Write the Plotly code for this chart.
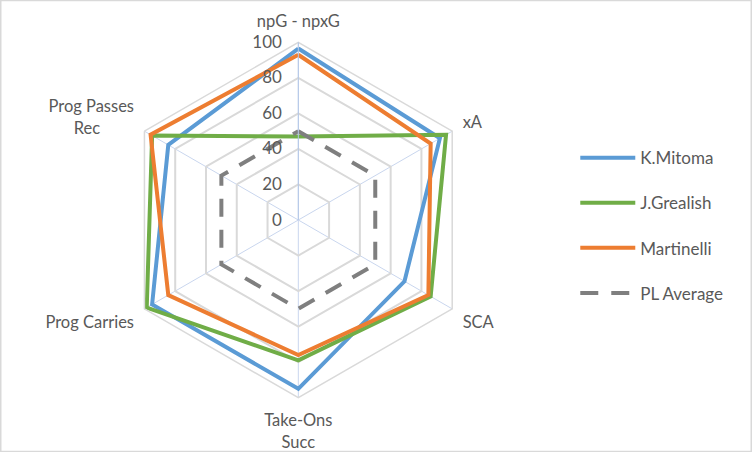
import plotly.graph_objects as go

NB = "\u00a0"
categories = ["npG - npxG", "xA", "SCA", "Take-Ons<br>Succ", "Prog Carries", "Prog Passes<br>Rec" + NB * 8]
mitoma = [96.5, 92, 69, 95, 95, 84.5]
grealish = [47, 96, 86, 79, 98.5, 95]
martinelli = [93, 86, 84.5, 76, 84.5, 96]
pl_average = [50, 50, 50, 50, 50, 50]
radial_ticks = [0, 20, 40, 60, 80, 100]

series = [
    ("K.Mitoma", mitoma, "#5B9BD5", "solid"),
    ("J.Grealish", grealish, "#70AD47", "solid"),
    ("Martinelli", martinelli, "#ED7D31", "solid"),
    ("PL Average", pl_average, "#7F7F7F", "18px,13px"),
]

fig = go.Figure()
for i, (name, vals, color, dash) in enumerate(series):
    fig.add_trace(go.Scatterpolar(
        r=vals + vals[:1], theta=categories + categories[:1],
        mode="lines", name=name, legendgroup=name,
        line=dict(color=color, width=4, dash=dash),
    ))

font_family = "Lato, 'Open Sans', sans-serif"
fig.update_layout(
    width=752, height=452,
    margin=dict(l=0, r=0, t=0, b=0),
    paper_bgcolor="white", plot_bgcolor="white",
    font=dict(family=font_family, color="#595959", size=16),
    polar=dict(
        domain=dict(x=[0.1604, 0.6330], y=[0.1201, 0.9064]),
        gridshape="linear",
        bgcolor="white",
        radialaxis=dict(
            range=[0, 100], tickvals=radial_ticks, angle=90,
            tickangle=90, side="counterclockwise",
            showline=True, linecolor="#B4C7E7", linewidth=1,
            gridcolor="#D9D9D9", gridwidth=1.5,
            ticks="outside", ticklen=10, tickcolor="rgba(0,0,0,0)",
            tickfont=dict(size=17, color="#595959"),
        ),
        angularaxis=dict(
            rotation=90, direction="clockwise",
            linecolor="#D9D9D9", linewidth=1.5, showline=True,
            gridcolor="#C9D6EE", gridwidth=1,
            ticks="outside", ticklen=8, tickcolor="rgba(0,0,0,0)",
            tickfont=dict(size=16.5, color="#595959"),
        ),
    ),
    legend=dict(
        x=0.765, y=0.69, xanchor="left", yanchor="top",
        font=dict(size=17, color="#595959"),
        tracegroupgap=20, itemwidth=55,
    ),
    showlegend=True,
)
fig.add_shape(type="rect", xref="paper", yref="paper", x0=0.001, y0=0.001, x1=0.999, y1=0.999,
              line=dict(color="#D9D9D9", width=1.5))
fig.write_html("out.html", config={"displayModeBar": False},
               post_script="document.body.style.margin='0px';")
